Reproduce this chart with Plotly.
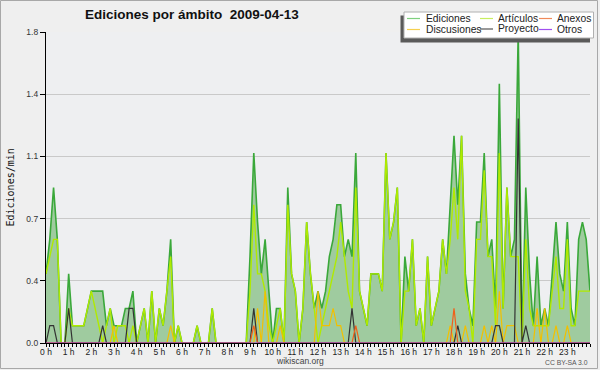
import plotly.graph_objects as go

# ---------------- data (edits per minute, 10-minute bins) ----------------
titulo = "Ediciones por ámbito&nbsp; 2009-04-13"
series_nombres = ["Ediciones", "Artículos", "Anexos", "Discusiones", "Proyecto", "Otros"]

ediciones = [
    0.4, 0.6, 0.9, 0.6, 0, 0,
    0.4, 0.1, 0.1, 0.1, 0.1, 0.2,
    0.3, 0.3, 0.3, 0.3, 0.1, 0.2,
    0.1, 0.1, 0.1, 0.2, 0.2, 0.3,
    0, 0.1, 0.2, 0, 0.3, 0,
    0.2, 0.1, 0.3, 0.6, 0, 0.1,
    0, 0, 0, 0, 0.1, 0,
    0, 0, 0.2, 0, 0, 0,
    0, 0, 0, 0, 0, 0,
    0.5, 1.1, 0.7, 0.4, 0.6, 0.3,
    0, 0.2, 0.2, 0, 0.9, 0.4,
    0.3, 0, 0.2, 0.7, 0.4, 0.2,
    0.3, 0.2, 0.3, 0.5, 0.6, 0.8,
    0.8, 0.5, 0.6, 0.5, 1.1, 0.3,
    0.2, 0.1, 0.4, 0.4, 0.4, 0.3,
    1.1, 0.6, 0.7, 0.9, 0, 0.5,
    0.3, 0.6, 0.1, 0.2, 0, 0.5,
    0.1, 0.2, 0.3, 0.6, 0.4, 0.8,
    1.2, 0.8, 1.2, 0.4, 0.2, 0.1,
    0.7, 0.7, 1.1, 0.5, 0.6, 0.2,
    1.5, 0.2, 0.9, 0.5, 0.6, 1.8,
    0, 0.9, 0.4, 0.1, 0.5, 0.1,
    0.2, 0.1, 0.4, 0.7, 0.4, 0.3,
    0.7, 0.2, 0.1, 0.6, 0.7, 0.6,
    0.3,
]

articulos = [
    0.4, 0.5, 0.6, 0.6, 0, 0,
    0.2, 0.1, 0.1, 0.1, 0.1, 0.2,
    0.3, 0.2, 0.1, 0, 0.1, 0.2,
    0, 0.1, 0.1, 0.1, 0, 0.1,
    0, 0.1, 0.2, 0, 0.3, 0,
    0.2, 0.1, 0.3, 0.5, 0, 0.1,
    0, 0, 0, 0, 0.1, 0,
    0, 0, 0.2, 0, 0, 0,
    0, 0, 0, 0, 0, 0,
    0.3, 0.8, 0.4, 0.4, 0.3, 0.1,
    0, 0.1, 0.2, 0, 0.8, 0.4,
    0.3, 0, 0.2, 0.7, 0.4, 0.2,
    0, 0.1, 0.2, 0.3, 0.4, 0.5,
    0.7, 0.5, 0.3, 0.2, 0.9, 0.3,
    0.2, 0.1, 0.4, 0.4, 0.4, 0.3,
    1.1, 0.6, 0.7, 0.9, 0, 0.3,
    0.3, 0.6, 0.1, 0.2, 0, 0.5,
    0.1, 0.2, 0.3, 0.6, 0.4, 0.6,
    0.9, 0.6, 1.2, 0.3, 0.2, 0,
    0.6, 0.6, 1.0, 0.5, 0.5, 0.1,
    1.1, 0.2, 0.9, 0.5, 0.5, 0.5,
    0, 0.6, 0.2, 0.1, 0.1, 0.1,
    0.1, 0.1, 0.3, 0.5, 0.2, 0.2,
    0.6, 0.1, 0.1, 0.3, 0.3, 0.3,
    0.3,
]

discusiones = [
    0, 0, 0, 0, 0, 0,
    0, 0, 0, 0, 0, 0,
    0, 0, 0, 0, 0, 0,
    0.1, 0, 0, 0, 0, 0,
    0, 0, 0, 0, 0, 0,
    0, 0, 0, 0.1, 0, 0,
    0, 0, 0, 0, 0, 0,
    0, 0, 0, 0, 0, 0,
    0, 0, 0, 0, 0, 0,
    0, 0, 0.2, 0, 0.3, 0,
    0, 0, 0.1, 0, 0, 0,
    0, 0, 0, 0, 0, 0,
    0.3, 0.1, 0.1, 0.1, 0.2, 0.1,
    0.1, 0, 0, 0, 0, 0,
    0, 0, 0, 0, 0, 0,
    0, 0, 0, 0, 0, 0,
    0, 0, 0, 0, 0, 0,
    0, 0, 0, 0, 0, 0.1,
    0, 0, 0, 0.1, 0, 0,
    0, 0, 0.1, 0, 0.1, 0,
    0.3, 0, 0.1, 0.1, 0.1, 0,
    0, 0, 0, 0, 0.2, 0,
    0.2, 0, 0, 0.1, 0, 0,
    0.1, 0, 0, 0, 0, 0,
    0,
]

proyecto = [
    0, 0.1, 0.1, 0, 0, 0,
    0.2, 0, 0, 0, 0, 0,
    0, 0, 0, 0.1, 0, 0,
    0, 0, 0, 0, 0.2, 0.2,
    0, 0, 0, 0, 0, 0,
    0, 0, 0, 0, 0, 0,
    0, 0, 0, 0, 0, 0,
    0, 0, 0, 0, 0, 0,
    0, 0, 0, 0, 0, 0,
    0, 0.2, 0, 0, 0, 0,
    0, 0, 0, 0, 0, 0,
    0, 0, 0, 0, 0, 0,
    0, 0, 0, 0, 0, 0,
    0, 0, 0, 0.2, 0, 0,
    0, 0, 0, 0, 0, 0,
    0, 0, 0, 0, 0, 0,
    0, 0, 0, 0, 0, 0,
    0, 0, 0, 0, 0, 0,
    0, 0.1, 0, 0, 0, 0,
    0, 0, 0, 0, 0, 0.1,
    0.1, 0, 0, 0, 0, 1.3,
    0, 0.1, 0, 0, 0, 0,
    0, 0, 0, 0, 0, 0,
    0, 0, 0, 0, 0, 0,
    0,
]

anexos = [
    0, 0, 0, 0, 0, 0,
    0, 0, 0, 0, 0, 0,
    0, 0, 0, 0, 0, 0,
    0, 0, 0, 0, 0, 0,
    0, 0, 0, 0, 0, 0,
    0, 0, 0, 0, 0, 0,
    0, 0, 0, 0, 0, 0,
    0, 0, 0, 0, 0, 0,
    0, 0, 0, 0, 0, 0,
    0, 0.1, 0, 0, 0, 0,
    0, 0, 0, 0, 0, 0,
    0, 0, 0, 0, 0, 0,
    0, 0, 0, 0, 0, 0,
    0, 0, 0, 0, 0.1, 0,
    0, 0, 0, 0, 0, 0,
    0, 0, 0, 0, 0, 0,
    0, 0, 0, 0, 0, 0,
    0, 0, 0, 0, 0, 0,
    0.2, 0, 0, 0, 0, 0,
    0, 0, 0, 0, 0, 0,
    0, 0, 0, 0, 0, 0,
    0, 0, 0, 0, 0, 0,
    0, 0, 0, 0, 0, 0,
    0, 0, 0, 0, 0, 0,
    0,
]

otros = [0] * len(ediciones)

horas = [i / 6 for i in range(len(ediciones))]   # one point every 10 minutes

x_tickvals = list(range(24))
x_ticktext = ["0 h", "1 h", "2 h", "3 h", "4 h", "5 h", "6 h", "7 h", "8 h", "9 h", "10 h", "11 h",
              "12 h", "13 h", "14 h", "15 h", "16 h", "17 h", "18 h", "19 h", "20 h", "21 h", "22 h", "23 h"]
y_tickvals = [0, 0.36, 0.72, 1.08, 1.44, 1.8]
y_ticktext = ["0.0", "0.4", "0.7", "1.1", "1.4", "1.8"]

# ---------------- styles ----------------
colores = {
    "Ediciones": "#3aa83a",
    "Artículos": "#b0ea00",
    "Anexos": "#f0601a",
    "Discusiones": "#f2c000",
    "Proyecto": "#333333",
    "Otros": "#9a40f0",
}
swatch = {
    "Ediciones": "#7fd07f",
    "Artículos": "#c8ee60",
    "Anexos": "#f08a5a",
    "Discusiones": "#f6d050",
    "Proyecto": "#555555",
    "Otros": "#a050f0",
}
FONT = "Liberation Sans"

W, H = 600, 370
PL, PR, PT, PB = 46, 590, 32, 343


def xp(px):
    return (px - PL) / (PR - PL)


def yp(py):
    return (PB - py) / (PB - PT)


fig = go.Figure()
fig.add_trace(go.Scatter(x=horas, y=ediciones, name="Ediciones", mode="lines",
                         fill="tozeroy", fillcolor="#9fcb9f",
                         line=dict(color=colores["Ediciones"], width=1.6)))
fig.add_trace(go.Scatter(x=horas, y=articulos, name="Artículos", mode="lines",
                         line=dict(color=colores["Artículos"], width=1.4)))
fig.add_trace(go.Scatter(x=horas, y=discusiones, name="Discusiones", mode="lines",
                         line=dict(color=colores["Discusiones"], width=1.2)))
fig.add_trace(go.Scatter(x=horas, y=proyecto, name="Proyecto", mode="lines",
                         line=dict(color=colores["Proyecto"], width=1.2)))
fig.add_trace(go.Scatter(x=horas, y=anexos, name="Anexos", mode="lines",
                         line=dict(color=colores["Anexos"], width=1.2)))
fig.add_trace(go.Scatter(x=horas, y=otros, name="Otros", mode="lines",
                         line=dict(color=colores["Otros"], width=1)))

shapes = []
annotations = []

# outer frame
shapes.append(dict(type="rect", xref="paper", yref="paper",
                   x0=xp(0.5), x1=xp(597.5), y0=yp(368.5), y1=yp(0.5),
                   line=dict(color="#a8a8a8", width=1), fillcolor="rgba(0,0,0,0)", layer="above"))

# legend (drawn box with shadow)
shapes.append(dict(type="rect", xref="paper", yref="paper",
                   x0=xp(400.5), x1=xp(590), y0=yp(42.5), y1=yp(15.5),
                   line=dict(width=0), fillcolor="#5a5a5a", layer="above"))
shapes.append(dict(type="rect", xref="paper", yref="paper",
                   x0=xp(404), x1=xp(593.5), y0=yp(38), y1=yp(12),
                   line=dict(color="#b0b0b0", width=1), fillcolor="#ffffff", layer="above"))

leg_pos = {
    "Ediciones": (407, 424, 18.5),
    "Artículos": (480, 496, 18.5),
    "Anexos": (539, 555, 18.5),
    "Discusiones": (407, 424, 29.5),
    "Proyecto": (480, 496, 29.0),
    "Otros": (539, 555, 29.5),
}
for nombre in series_nombres:
    lx, tx, ly = leg_pos[nombre]
    shapes.append(dict(type="line", xref="paper", yref="paper",
                       x0=xp(lx), x1=xp(lx + 13), y0=yp(ly), y1=yp(ly),
                       line=dict(color=swatch[nombre], width=1.2), layer="above"))
    annotations.append(dict(text=nombre, xref="paper", yref="paper",
                            x=xp(tx), y=yp(ly - 0.5), xanchor="left", yanchor="middle",
                            showarrow=False, font=dict(family=FONT, size=10.3, color="#222222")))

# axis titles and credits
annotations.append(dict(text="Ediciones/min", xref="paper", yref="paper",
                        x=xp(9.5), y=yp(188), xanchor="center", yanchor="middle", textangle=-90,
                        showarrow=False, font=dict(family="DejaVu Sans Mono", size=10, color="#111111")))
annotations.append(dict(text="wikiscan.org", xref="paper", yref="paper",
                        x=xp(300), y=yp(361), xanchor="center", yanchor="middle",
                        showarrow=False, font=dict(family=FONT, size=8.5, color="#444444")))
annotations.append(dict(text="CC BY-SA 3.0", xref="paper", yref="paper",
                        x=xp(590), y=yp(362), xanchor="right", yanchor="middle",
                        showarrow=False, font=dict(family=FONT, size=6.8, color="#555555")))

fig.update_layout(
    width=W, height=H,
    margin=dict(l=PL, r=W - PR, t=PT, b=H - PB, pad=0),
    paper_bgcolor="#efefef",
    plot_bgcolor="#eeeff1",
    showlegend=False,
    title=dict(text="<b>" + titulo + "</b>", x=85 / W, xanchor="left", xref="container",
               y=1 - 14 / H, yanchor="middle", yref="container",
               font=dict(family=FONT, size=13.5, color="#111111")),
    xaxis=dict(range=[0, 24], tickmode="array", tickvals=x_tickvals, ticktext=x_ticktext,
               ticks="outside", ticklen=3, tickwidth=1, tickcolor="#000000",
               showline=True, linecolor="#000000", linewidth=1.2,
               showgrid=False, zeroline=False, fixedrange=True,
               tickfont=dict(family=FONT, size=8.5, color="#222222"),
               ticklabelstandoff=-2,
               minor=dict(tickmode="linear", tick0=0, dtick=1 / 6, ticks="outside",
                          ticklen=3, tickcolor="#000000", tickwidth=1, showgrid=False)),
    yaxis=dict(range=[0, 1.8], tickmode="array", tickvals=y_tickvals, ticktext=y_ticktext,
               ticks="outside", ticklen=5, tickwidth=1, tickcolor="#000000",
               showline=True, linecolor="#000000", linewidth=1.2,
               showgrid=True, gridcolor="#c9c9c9", gridwidth=1, zeroline=False, fixedrange=True,
               tickfont=dict(family=FONT, size=8.5, color="#333333"),
               ticklabelstandoff=0),
    shapes=shapes,
    annotations=annotations,
)

fig.write_html("out.html", config={"displayModeBar": False},
               post_script="document.body.style.margin='0';")
